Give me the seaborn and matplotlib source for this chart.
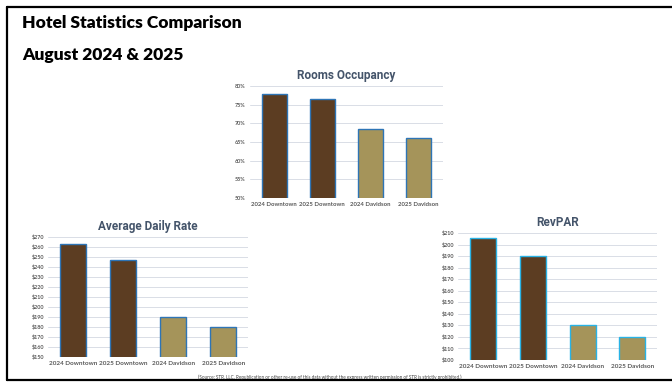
import matplotlib
matplotlib.use("Agg")
import matplotlib.pyplot as plt
import seaborn as sns
import pandas as pd
from matplotlib.lines import Line2D
from matplotlib.ticker import FuncFormatter, MultipleLocator

categories = ["2024 Downtown", "2025 Downtown", "2024 Davidson", "2025 Davidson"]
occupancy = [77.8, 76.4, 68.4, 66.1]
adr = [263, 247, 190, 180]
revpar = [205.5, 190, 130, 119.5]

bar_colors = ["#5C3D22", "#5C3D22", "#A5945A", "#A5945A"]
title_color = "#44546A"
tick_color = "#595959"

sns.set_theme(style="white")
plt.rcParams['font.family'] = ['Lato', 'DejaVu Sans']

fig = plt.figure(figsize=(6.72, 3.82), dpi=100)

def draw(ax, values, title, ymin, ymax, step, fmt, edge, xsize):
    df = pd.DataFrame({"cat": categories, "val": values})
    sns.barplot(data=df, x="cat", y="val", hue="cat", palette=bar_colors,
                legend=False, ax=ax, width=0.52, edgecolor=edge, linewidth=1.0,
                saturation=1)
    ax.set_ylim(ymin, ymax)
    ax.yaxis.set_major_locator(MultipleLocator(step))
    ax.yaxis.set_major_formatter(FuncFormatter(fmt))
    ax.grid(axis="y", color="#D9DDE6", linewidth=0.7)
    ax.set_axisbelow(True)
    for s in ax.spines.values():
        s.set_visible(False)
    ax.set_xlabel("")
    ax.set_ylabel("")
    ax.tick_params(axis="y", labelsize=3.9, colors=tick_color, length=0, pad=3)
    ax.tick_params(axis="x", labelsize=xsize, colors=tick_color, length=0, pad=3)
    for lbl in ax.get_xticklabels():
        lbl.set_fontweight("bold")
    for lbl in ax.get_yticklabels():
        lbl.set_fontweight("bold")
    ax.set_title(title, fontsize=8.5, color=title_color, pad=5,
                 family=['Roboto', 'DejaVu Sans'], fontweight="bold")
    ax.set_xlim(-0.5, 3.5)

ax1 = fig.add_axes([0.372, 0.482, 0.287, 0.293])
draw(ax1, occupancy, "Rooms Occupancy", 50, 80, 5, lambda v, p: f"{v:.0f}%", "#2E75B6", 4.35)

ax2 = fig.add_axes([0.0714, 0.0654, 0.298, 0.315])
draw(ax2, adr, "Average Daily Rate", 150, 270, 10, lambda v, p: f"${v:.0f}", "#2E75B6", 4.6)

ax3 = fig.add_axes([0.682, 0.0576, 0.296, 0.3325])
draw(ax3, revpar, "RevPAR", 100, 210, 10, lambda v, p: f"${v:.0f}", "#29B3E6", 4.6)

fig.text(22/672, 1 - 23/382, "Hotel Statistics Comparison", fontsize=12.5,
         fontweight="heavy", color="black", va="center", ha="left",
         family=['Lato', 'DejaVu Sans'])
fig.text(22/672, 1 - 55/382, "August 2024 & 2025", fontsize=12.5,
         fontweight="heavy", color="black", va="center", ha="left",
         family=['Lato', 'DejaVu Sans'])

fig.text(330/672, 1 - 377/382,
         "(Source: STR, LLC. Republication or other re-use of this data without the express written permission of STR is strictly prohibited.)",
         fontsize=3.3, color="#404040", ha="center", va="center")

# border lines
fig.add_artist(Line2D([7/672, 7/672], [1 - 7/382, 1 - 380/382], transform=fig.transFigure,
                      color="black", linewidth=1.6))
fig.add_artist(Line2D([7/672, 1], [1 - 7/382, 1 - 7/382], transform=fig.transFigure,
                      color="black", linewidth=1.6))
fig.add_artist(Line2D([7/672, 1], [1 - 380/382, 1 - 380/382], transform=fig.transFigure,
                      color="black", linewidth=1.6))

fig.savefig("out.png", dpi=100, facecolor="white")
